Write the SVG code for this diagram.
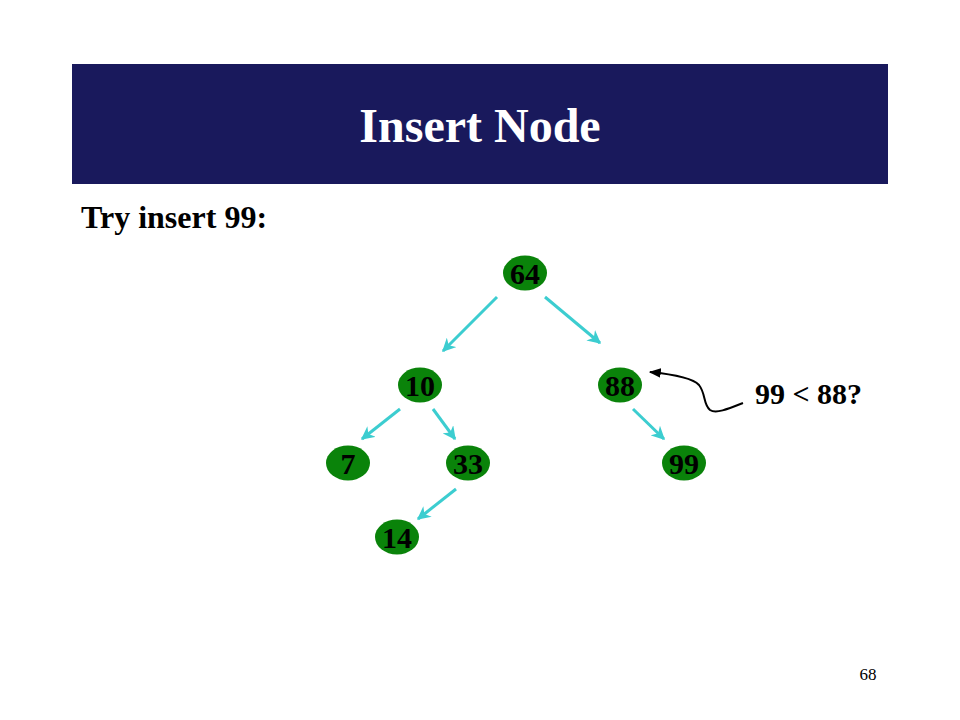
<svg xmlns="http://www.w3.org/2000/svg" width="960" height="720" viewBox="0 0 960 720">
<style>
.node ellipse{fill:#0a830a;}
.node text{font-family:"Liberation Serif",serif;font-weight:bold;font-size:30px;fill:#000;text-anchor:middle;}
.edge{stroke:#3ccdd0;stroke-width:3;fill:none;marker-end:url(#ah);}
.lbl{font-family:"Liberation Serif",serif;font-weight:bold;fill:#000;}
</style>
<defs>
<marker id="ah" viewBox="0 0 10 10" refX="9" refY="5" markerWidth="4.5" markerHeight="4.5" orient="auto" markerUnits="strokeWidth">
<path d="M0,0 L10,5 L0,10 L3,5 z" fill="#3ccdd0"/>
</marker>
<marker id="bh" viewBox="0 0 10 10" refX="9" refY="5" markerWidth="6" markerHeight="6" orient="auto" markerUnits="strokeWidth">
<path d="M0,1 L10,5 L0,9 z" fill="#000"/>
</marker>
</defs>
<rect width="960" height="720" fill="#fff"/>
<g id="title">
<rect x="72" y="64" width="816" height="120" fill="#19195c"/>
<text x="480" y="142" font-family="Liberation Serif,serif" font-weight="bold" font-size="48" fill="#fff" text-anchor="middle">Insert Node</text>
</g>
<text class="lbl" x="81" y="228" font-size="32">Try insert 99:</text>
<g id="connectors">
<line class="edge" x1="497" y1="297" x2="443" y2="351"/>
<line class="edge" x1="545" y1="297" x2="600" y2="343"/>
<line class="edge" x1="400" y1="409" x2="362" y2="439"/>
<line class="edge" x1="433" y1="409" x2="455" y2="439"/>
<line class="edge" x1="633" y1="409" x2="664" y2="439"/>
<line class="edge" x1="456" y1="489" x2="418" y2="519"/>
<path d="M743,403 C728,409 716,414 710,410 C703,404 706,394 699,385 C692,377 670,374 650,372" stroke="#000" stroke-width="2" fill="none" marker-end="url(#bh)"/>
</g>
<g id="n64" class="node"><ellipse cx="525" cy="273" rx="22" ry="17.5"/><text x="525" y="284">64</text></g>
<g id="n10" class="node"><ellipse cx="420" cy="385" rx="22" ry="17.5"/><text x="420" y="396">10</text></g>
<g id="n88" class="node"><ellipse cx="620" cy="385" rx="22" ry="17.5"/><text x="620" y="396">88</text></g>
<g id="n7" class="node"><ellipse cx="348" cy="463" rx="22" ry="17.5"/><text x="348" y="474">7</text></g>
<g id="n33" class="node"><ellipse cx="468" cy="463" rx="22" ry="17.5"/><text x="468" y="474">33</text></g>
<g id="n99" class="node"><ellipse cx="684" cy="463" rx="22" ry="17.5"/><text x="684" y="474">99</text></g>
<g id="n14" class="node"><ellipse cx="397" cy="537" rx="22" ry="17.5"/><text x="397" y="548">14</text></g>
<text class="lbl" x="755" y="404" font-size="30">99 &lt; 88?</text>
<text x="868" y="680" font-family="Liberation Serif,serif" font-size="17" fill="#000" text-anchor="middle">68</text>
</svg>
